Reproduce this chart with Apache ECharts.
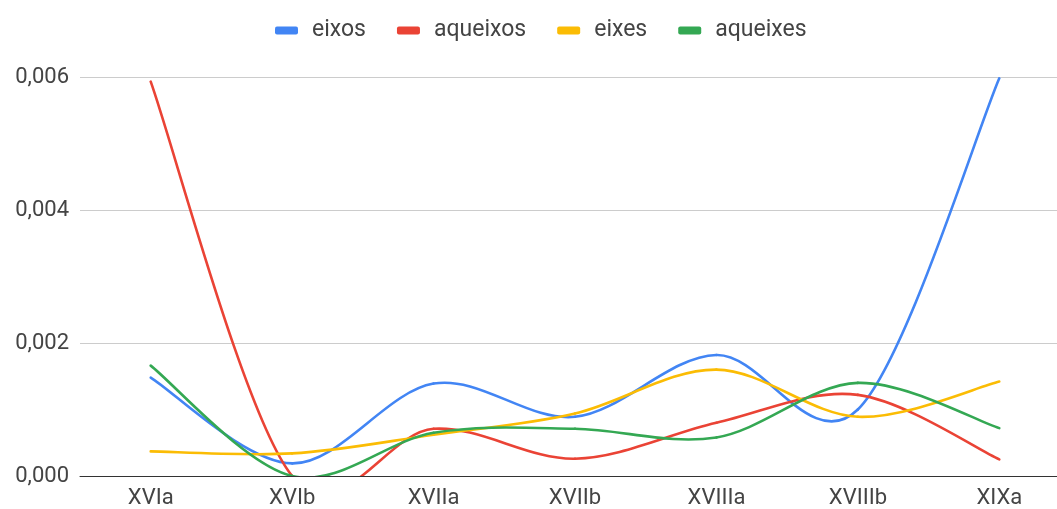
<!DOCTYPE html>
<html>
<head>
<meta charset="utf-8">
<script src="https://cdn.jsdelivr.net/npm/echarts@6/dist/echarts.min.js"></script>
<style>
  html, body { margin: 0; padding: 0; background: #fff; overflow: hidden; }
  #chart { width: 1070px; height: 509px; }
</style>
</head>
<body>
<div id="chart"></div>
<script>
// Periods on the horizontal axis
const categories = ['XVIa', 'XVIb', 'XVIIa', 'XVIIb', 'XVIIIa', 'XVIIIb', 'XIXa'];

// Relative frequency of each form per period
const eixos    = [0.00148, 0.00019, 0.00139, 0.00089, 0.00182, 0.00100, 0.00598];
const aqueixos = [0.00593, 0.00000, 0.00071, 0.00026, 0.00080, 0.00122, 0.00025];
const eixes    = [0.00037, 0.00034, 0.00062, 0.00094, 0.00160, 0.00089, 0.00142];
const aqueixes = [0.00166, 0.00000, 0.00065, 0.00071, 0.00058, 0.00140, 0.00072];

const seriesNames = ['eixos', 'aqueixos', 'eixes', 'aqueixes'];
const seriesData = [eixos, aqueixos, eixes, aqueixes];
const colors = ['#4285F4', '#EA4335', '#FBBC04', '#34A853'];

// Y axis: 0 to 0.006 with step 0.002, comma as decimal separator
const yMin = 0, yMax = 0.006, yStep = 0.002;
const fmt = v => v.toFixed(3).replace('.', ',');

const FONT = 'Roboto, Arial, sans-serif';

// Each segment i -> i+1 is drawn as a Catmull-Rom cubic, with the
// pixel positions of the neighbouring points taken from the axes.
function segmentRenderer(values, color) {
  return function (params, api) {
    const i = api.value(0);
    const n = values.length;
    if (i >= n - 1) return null;
    const clampIdx = k => Math.max(0, Math.min(n - 1, k));
    const pt = k => api.coord([clampIdx(k), values[clampIdx(k)]]);
    const p0 = pt(i - 1), p1 = pt(i), p2 = pt(i + 1), p3 = pt(i + 2);
    const t1 = [(p2[0] - p0[0]) / 2, (p2[1] - p0[1]) / 2];
    const t2 = [(p3[0] - p1[0]) / 2, (p3[1] - p1[1]) / 2];
    return {
      type: 'bezierCurve',
      shape: {
        x1: p1[0], y1: p1[1],
        cpx1: p1[0] + t1[0] / 3, cpy1: p1[1] + t1[1] / 3,
        cpx2: p2[0] - t2[0] / 3, cpy2: p2[1] - t2[1] / 3,
        x2: p2[0], y2: p2[1]
      },
      style: { stroke: color, lineWidth: 2.6, fill: null, lineCap: 'round' },
      silent: true
    };
  };
}

const chart = echarts.init(document.getElementById('chart'), null, { renderer: 'canvas' });

chart.setOption({
  animation: false,
  color: colors,
  textStyle: { fontFamily: FONT },
  legend: {
    top: 14,
    left: 270,
    itemWidth: 23,
    itemHeight: 8,
    itemGap: 31,
    icon: 'roundRect',
    textStyle: { fontSize: 23, color: '#444', fontFamily: FONT, padding: [0, 0, 0, 9] },
    data: seriesNames
  },
  grid: { left: 80, right: 0, top: 77, bottom: 33, containLabel: false },
  xAxis: {
    type: 'category',
    data: categories,
    boundaryGap: true,
    axisTick: { show: false },
    axisLine: { lineStyle: { color: '#333', width: 1 } },
    axisLabel: { fontSize: 22, color: '#444', margin: 11, fontFamily: FONT }
  },
  yAxis: {
    type: 'value',
    min: yMin,
    max: yMax,
    interval: yStep,
    axisLine: { show: false },
    axisTick: { show: false },
    axisLabel: { fontSize: 22, color: '#444', margin: 11, formatter: fmt, fontFamily: FONT },
    splitLine: { lineStyle: { color: '#cccccc', width: 1 } }
  },
  series: seriesNames.map((name, i) => ({
    name: name,
    type: 'custom',
    clip: true,
    data: seriesData[i].map((v, k) => [k, v]),
    encode: { x: 0, y: 1 },
    itemStyle: { color: colors[i] },
    renderItem: segmentRenderer(seriesData[i], colors[i])
  }))
});
</script>
</body>
</html>
